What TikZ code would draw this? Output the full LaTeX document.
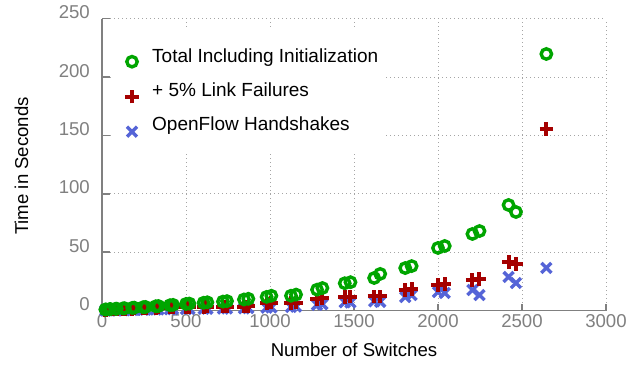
\documentclass[tikz,border=0pt]{standalone}
\usepackage{fontspec}
\setmainfont{Liberation Sans}
\definecolor{gr}{RGB}{0,165,0}
\definecolor{rd}{RGB}{165,0,0}
\definecolor{bl}{RGB}{85,100,215}
\definecolor{axc}{RGB}{128,128,128}
\definecolor{gridc}{RGB}{165,165,165}
\tikzset{
  gmark/.pic={\draw[gr, line width=3.4pt] (0,0) circle[radius=5.2pt];},
  rmark/.pic={\draw[rd, line width=4pt] (-6.6pt,0)--(6.6pt,0) (0,-6.6pt)--(0,6.6pt);},
  bmark/.pic={\draw[bl, line width=3.4pt] (-5pt,-5pt)--(5pt,5pt) (-5pt,5pt)--(5pt,-5pt);},
  gridline/.style={gridc, line width=0.9pt, dash pattern=on 1pt off 3pt},
  axisline/.style={axc, line width=1.6pt},
  ticklab/.style={text=axc, font=\fontsize{18.6}{22}\selectfont, inner sep=0pt},
  labtext/.style={text=black, font=\fontsize{18.6}{22}\selectfont, inner sep=0pt},
  legtext/.style={text=black, font=\fontsize{19}{22}\selectfont, inner sep=0pt}
}
\begin{document}
\begin{tikzpicture}[x=1pt,y=1pt]
\useasboundingbox (0,0) rectangle (640,366);
\fill[white] (0,0) rectangle (640,366);
\begin{scope}[shift={(102,55.3)}, x=0.168pt, y=1.168pt]
  % grid
  \foreach \gy in {50,100,150,200,250} \draw[gridline] (0,\gy) -- (3000,\gy);
  \foreach \gx in {500,1000,1500,2000,2500,3000} \draw[gridline] (\gx,0) -- (\gx,250);
  % legend background
  \fill[white] (53.6,242.1) rectangle (1690,135.1);
  % axes
  \draw[axisline] (0,250) -- (0,0) -- (3000,0);
  \foreach \gy in {0,50,100,150,200,250} {
    \draw[axisline] (0,\gy) -- ++(8pt,0);
    \node[ticklab, anchor=base east] (yl\gy) at ([xshift=-12pt]0,\gy) {\gy};
  }
  \foreach \gx in {0,500,1000,1500,2000,2500,3000} {
    \draw[axisline] (\gx,0) -- ++(0,7pt);
    \node[ticklab, anchor=base] (xl\gx) at ([yshift=-17.3pt]\gx,0) {\gx};
  }
  % data: OpenFlow handshakes
  \foreach \px/\py in {20/0.2, 24/0.2, 45/0.3, 51/0.3, 80/0.4, 88/0.4, 125/0.5, 135/0.5, 180/0.6, 192/0.7, 245/0.8, 259/0.9, 320/1.0, 336/1.1, 405/1.2, 423/1.3, 500/1.4, 520/1.5, 605/1.6, 627/1.7, 720/1.8, 744/1.9, 845/2.0, 871/2.2, 980/2.6, 1008/2.8, 1125/3.2, 1155/3.5, 1280/5.0, 1312/5.5, 1445/7.2, 1479/7.0, 1620/8.0, 1656/7.6, 1805/11.7, 1843/13.4, 2000/16.0, 2040/15.2, 2205/17.7, 2247/13.4, 2420/28.9, 2464/23.7, 2645/36.6}
    \pic at (\px,\py) {bmark};
  % data: + 5% link failures
  \foreach \px/\py in {20/0.5, 24/0.5, 45/0.7, 51/0.8, 80/0.9, 88/1.0, 125/1.2, 135/1.3, 180/1.5, 192/1.6, 245/1.8, 259/2.0, 320/2.2, 336/2.4, 405/2.7, 423/2.9, 500/3.0, 520/3.2, 605/3.2, 627/3.4, 720/3.3, 744/3.5, 845/3.4, 871/3.7, 980/6.4, 1008/6.8, 1125/6.6, 1155/7.0, 1280/9.6, 1312/10.6, 1445/11.8, 1479/12.0, 1620/12.2, 1656/12.4, 1805/17.7, 1843/18.6, 2000/22.0, 2040/22.9, 2205/26.3, 2247/27.1, 2420/41.7, 2464/40.0, 2645/155.5}
    \pic at (\px,\py) {rmark};
  % data: total including initialization
  \foreach \px/\py in {20/1.0, 24/1.0, 45/1.3, 51/1.4, 80/1.6, 88/1.7, 125/2.0, 135/2.1, 180/2.4, 192/2.6, 245/3.0, 259/3.2, 320/3.8, 336/4.0, 405/4.7, 423/5.0, 500/5.8, 520/6.1, 605/6.8, 627/7.2, 720/7.8, 744/8.2, 845/9.6, 871/10.2, 980/11.8, 1008/12.8, 1125/12.8, 1155/13.8, 1280/18.0, 1312/19.4, 1445/23.5, 1479/24.4, 1620/28.0, 1656/31.5, 1805/36.5, 1843/38.2, 2000/53.7, 2040/55.4, 2205/65.7, 2247/68.2, 2420/90.5, 2464/84.5, 2645/219.8}
    \pic at (\px,\py) {gmark};
\end{scope}
% legend
\pic at (132,304.3) {gmark};
\pic at (132,269.3) {rmark};
\pic at (132,234.3) {bmark};
\node[legtext, anchor=base west] (lg1) at (152,303.3) {Total Including Initialization};
\node[legtext, anchor=base west] (lg2) at (152,269.3) {+ 5\% Link Failures};
\node[legtext, anchor=base west] (lg3) at (152,235.3) {OpenFlow Handshakes};
% axis titles
\node[labtext, anchor=base] (xt) at (354,9.3) {Number of Switches};
\node[labtext, anchor=base, rotate=90] (yt) at (28,200) {Time in Seconds};
\end{tikzpicture}
\end{document}
